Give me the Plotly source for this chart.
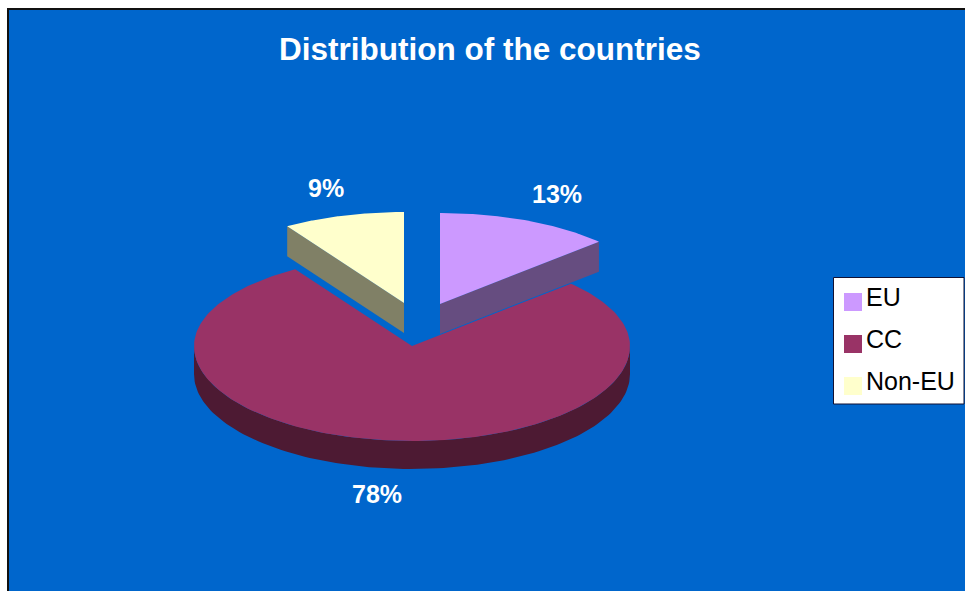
import numpy as np
import plotly.graph_objects as go

# values
categories = ["EU", "CC", "Non-EU"]
shares = [13, 78, 9]
title = "Distribution of the countries"

# colours
colors = ["#CC99FF", "#993366", "#FFFFCC"]
side_colors = ["#664D80", "#4D1A33", "#808066"]
bg = "#0066CC"

# look of the tilted pie, in pixels of the page
rx = 218
ry_back = 91
ry_front = 95
tips = [(440, 304), (412, 346), (404, 303)]
depths = [30, 28, 30]
label_pos = [(557, 194), (377, 494), (326, 188)]
legend_y = [302, 344, 386]


def rim(tip, a0, a1, n=120):
    # a0, a1 in degrees, clockwise from 12 o'clock
    a = np.radians(np.linspace(a0, a1, n))
    c = np.cos(a)
    ry = np.where(c > 0, ry_back, ry_front)
    return tip[0] + rx * np.sin(a), tip[1] - ry * c


def add_poly(fig, x, y, color, name):
    fig.add_trace(go.Scatter(x=x, y=y, mode="lines", fill="toself", fillcolor=color,
                             line=dict(width=0, color=color), name=name,
                             hoverinfo="name", showlegend=False))


fig = go.Figure()

ends = np.cumsum(shares) * 3.6
starts = ends - np.array(shares) * 3.6

# EU and Non-EU first, side wall goes along the cut facing the viewer
for i in [0, 2]:
    tip, d = tips[i], depths[i]
    ax, ay = rim(tip, starts[i], ends[i])
    edge = ends[i] if i == 0 else starts[i]
    ex, ey = rim(tip, edge, edge, 1)
    add_poly(fig, [tip[0], ex[0], ex[0], tip[0]], [tip[1], ey[0], ey[0] + d, tip[1] + d],
             side_colors[i], categories[i])
    add_poly(fig, np.r_[tip[0], ax], np.r_[tip[1], ay], colors[i], categories[i])

# CC wall is the front half of the rim
tip, d = tips[1], depths[1]
fx, fy = rim(tip, 90, 270)
add_poly(fig, np.r_[fx, fx[::-1]], np.r_[fy, fy[::-1] + d], side_colors[1], categories[1])
ax, ay = rim(tip, starts[1], ends[1], 240)
add_poly(fig, np.r_[tip[0], ax], np.r_[tip[1], ay], colors[1], categories[1])

shapes = [
    dict(type="rect", x0=8, y0=9, x1=1000, y1=1000, fillcolor=bg, line=dict(color="#111111", width=2), layer="below"),
    dict(type="rect", x0=833.5, y0=277.5, x1=964, y1=404, fillcolor="white", line=dict(color="#111133", width=1), layer="above"),
]
annotations = [dict(x=490, y=49, text=f"<b>{title}</b>", showarrow=False,
                    font=dict(family="Liberation Sans", size=31.5, color="white"))]

for i, cat in enumerate(categories):
    annotations.append(dict(x=label_pos[i][0], y=label_pos[i][1], text=f"<b>{shares[i]}%</b>", showarrow=False,
                            font=dict(family="Liberation Sans", size=25, color="white")))
    shapes.append(dict(type="rect", x0=844, x1=862, y0=legend_y[i] - 9, y1=legend_y[i] + 9,
                       fillcolor=colors[i], line=dict(width=0), layer="above"))
    annotations.append(dict(x=864, y=legend_y[i] - 5, text=cat, showarrow=False, xanchor="left",
                            font=dict(family="Liberation Sans", size=25, color="black")))

fig.update_layout(
    width=965, height=591,
    margin=dict(l=0, r=0, t=0, b=0),
    paper_bgcolor="white",
    plot_bgcolor="white",
    showlegend=False,
    shapes=shapes,
    annotations=annotations,
    xaxis=dict(range=[0, 965], visible=False, fixedrange=True),
    yaxis=dict(range=[591, 0], visible=False, fixedrange=True),
)

fig.write_html("out.html", config=dict(displayModeBar=False),
               post_script="document.body.style.margin='0';document.body.style.overflow='hidden';")
